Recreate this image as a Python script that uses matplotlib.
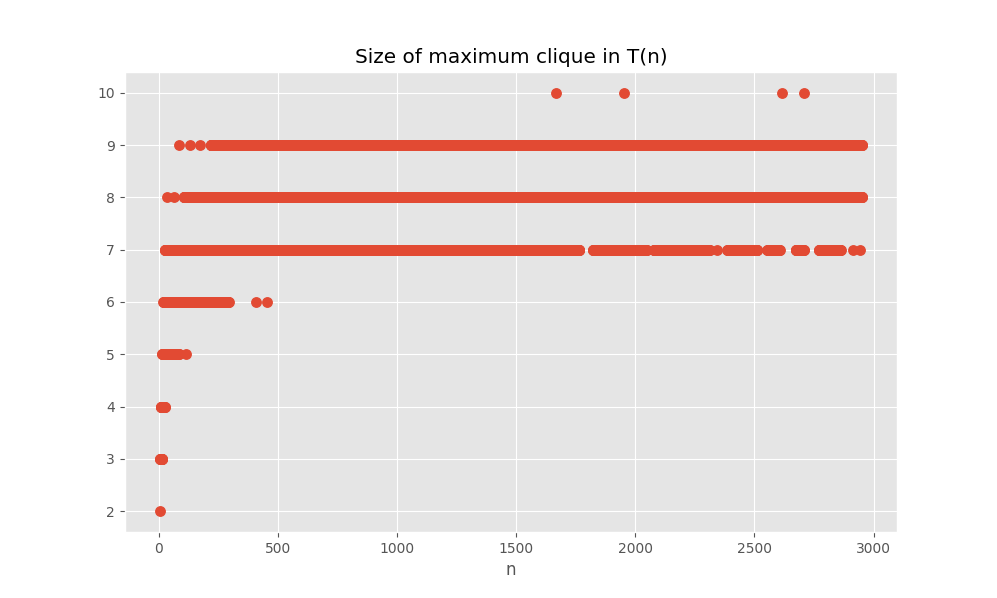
import numpy as np
import matplotlib
matplotlib.use("Agg")
import matplotlib.pyplot as plt

plt.style.use("ggplot")

# Clique sizes and the runs of n (inclusive) at which each size occurs
size_2_runs = [(5, 5)]
size_3_runs = [(6, 16)]
size_4_runs = [(9, 26)]
size_5_runs = [(15, 85), (116, 116)]
size_6_runs = [(20, 294), (407, 407), (456, 456)]
size_7_runs = [(26, 1766), (1822, 2048), (2077, 2312), (2345, 2345), (2386, 2512),
               (2554, 2606), (2673, 2707), (2770, 2862), (2915, 2915), (2943, 2943)]
size_8_runs = [(36, 36), (63, 63), (105, 2952)]
size_9_runs = [(85, 85), (133, 133), (172, 172), (218, 2952)]
size_10_n = [1666, 1951, 2614, 2707]

sizes = [2, 3, 4, 5, 6, 7, 8, 9]
runs = [size_2_runs, size_3_runs, size_4_runs, size_5_runs,
        size_6_runs, size_7_runs, size_8_runs, size_9_runs]

xs, ys = [], []
for s, rr in zip(sizes, runs):
    for a, b in rr:
        n = np.arange(a, b + 1)
        xs.append(n)
        ys.append(np.full(n.shape, s))
xs.append(np.array(size_10_n))
ys.append(np.full(len(size_10_n), 10))
x = np.concatenate(xs)
y = np.concatenate(ys)

fig, ax = plt.subplots(figsize=(9.97, 5.98), dpi=100)
ax.plot(x, y, "o", color="#E24A33", markersize=6.8, linestyle="none")
ax.set_title("Size of maximum clique in T(n)")
ax.set_xlabel("n")
fig.savefig("out.png", dpi=100)
